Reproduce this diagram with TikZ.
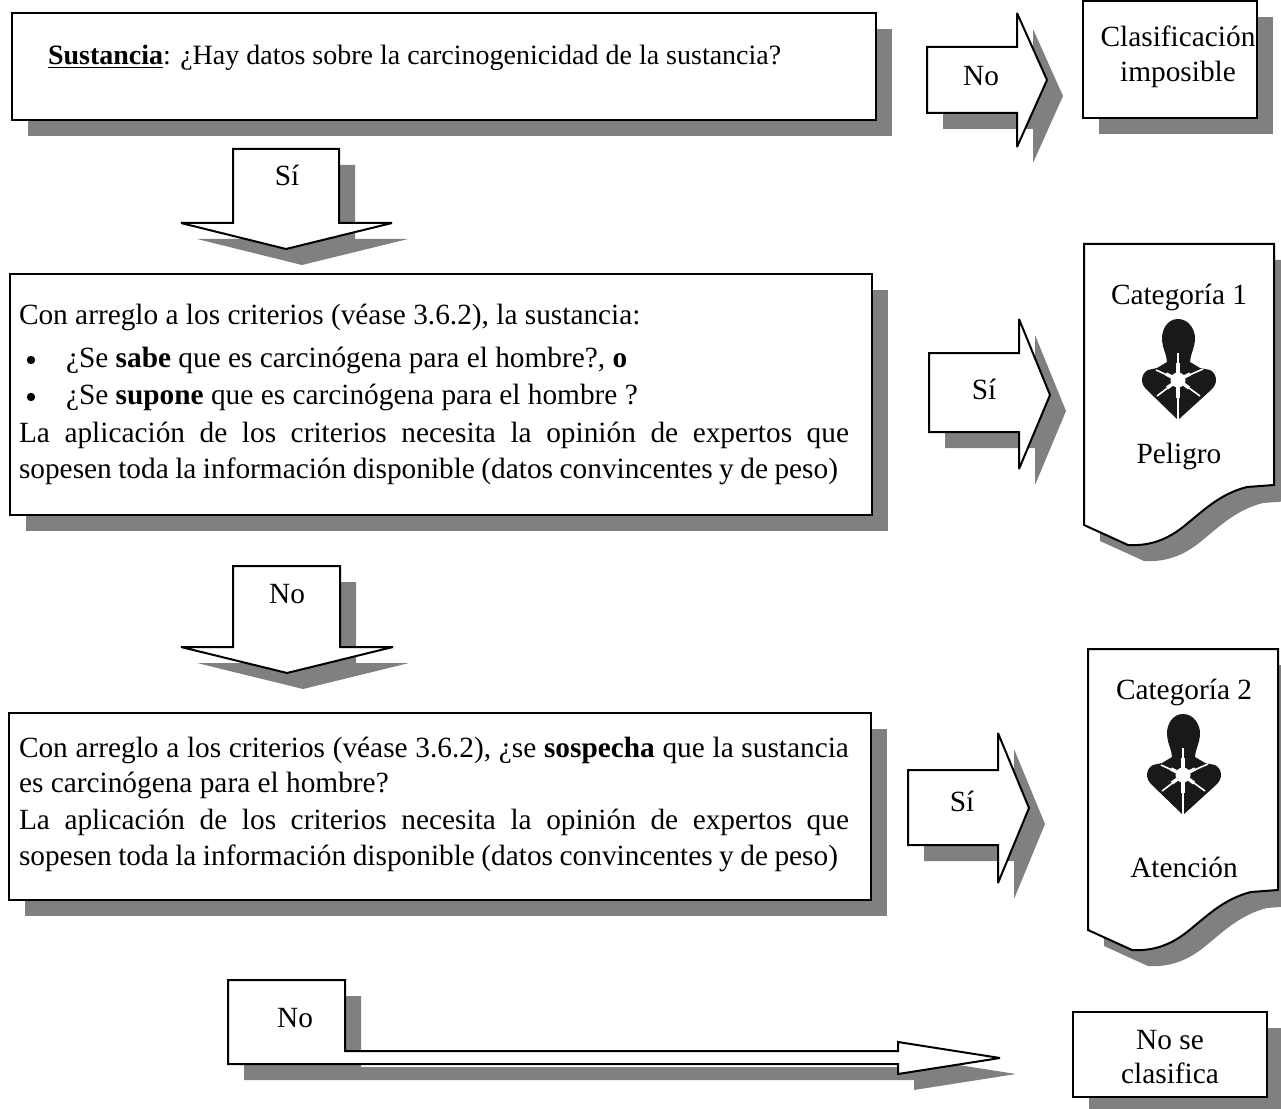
\documentclass[tikz,border=0pt]{standalone}
\usepackage{fontspec}
\setmainfont{Liberation Serif}
\newcommand{\shp}[1]{%
  \fill[shadowfill,shift={(16,16)}] #1 -- cycle;
  \draw[shapeline] #1 -- cycle;}
\newcommand{\docpath}{(0,0) -- (190,0) -- (190,241) -- (163,243)
  .. controls (135,250) and (118,268) .. (99,283)
  .. controls (80,298) and (62,302) .. (44,301) -- (0,281)}
\newcommand{\jline}[1]{\hbox to 622.5pt{#1}}
\newcommand{\kline}[1]{\hbox to 614.25pt{#1}}
\tikzset{
  x=0.75pt,y=-0.75pt,
  shadowfill/.style={fill=shadowgray,draw=none},
  shapeline/.style={draw=black,line width=1.5pt,fill=white,line join=miter,miter limit=3},
  txt/.style={inner sep=0pt,outer sep=0pt,font=\fontsize{22}{26}\selectfont},
  ctext/.style={txt,anchor=base},
  ltext/.style={txt,anchor=base west},
  pics/biohazard/.style={code={
    \fill[black!90] (48,9) .. controls (37,9) and (32,20) .. (32,28)
      .. controls (32,38) and (37,45) .. (37,52)
      -- (27,58) -- (18,60)
      .. controls (14,62) and (12,66) .. (12,70)
      .. controls (12,74) and (14,77) .. (17,80)
      -- (48,110) -- (81,80)
      .. controls (84,77) and (86,74) .. (86,70)
      .. controls (86,66) and (84,62) .. (80,60)
      -- (70,58) -- (60,52)
      .. controls (60,45) and (65,38) .. (65,28)
      .. controls (65,20) and (59,9) .. (48,9) -- cycle;
    \foreach \ex/\ey in {48/43,48/110,26/60,73/59,27/86,70/86}
      \draw[white,line width=1.2pt] (48,70) -- (\ex,\ey);
    \foreach \ex/\ey in {48/53,48/88,36/64,60/64,37/78,59/78}
      \draw[white,line width=2.6pt] (48,70) -- (\ex,\ey);
    \fill[white] (48,70) circle (7.5);
  }}
}
\definecolor{shadowgray}{RGB}{128,128,128}
\begin{document}
\begin{tikzpicture}
\useasboundingbox (0,0) rectangle (1281,1109);
% top box
\shp{(12,13) -- (876,13) -- (876,120) -- (12,120)}
\node[ltext,font=\fontsize{21}{25}\selectfont] (t1) at (48,65) {\underline{\textbf{Sustancia}}: ¿Hay datos sobre la carcinogenicidad de la sustancia?};
% arrow no
\shp{(927,47) -- (1017,47) -- (1017,13) -- (1047,80) -- (1017,147) -- (1017,113) -- (927,113)}
\node[ctext] (n1) at (981,86) {No};
% clasificacion imposible
\shp{(1083,1) -- (1257,1) -- (1257,118) -- (1083,118)}
\node[ctext] (c1) at (1178,47) {Clasificación};
\node[ctext] (c2) at (1178,82) {imposible};
% arrow si down
\shp{(233,149) -- (339,149) -- (339,223) -- (392,223) -- (286,249) -- (181,223) -- (233,223)}
\node[ctext] (s1) at (287,186) {Sí};
% box 2
\shp{(10,274) -- (872,274) -- (872,515) -- (10,515)}
\node[ltext] (b21) at (19,325) {Con arreglo a los criterios (véase 3.6.2), la sustancia:};
\fill (31,360) circle (4.2) coordinate (d1);
\node[ltext] (b22) at (66,367) {¿Se \textbf{sabe} que es carcinógena para el hombre?, \textbf{o}};
\fill (31,397) circle (4.2) coordinate (d2);
\node[ltext] (b23) at (66,404) {¿Se \textbf{supone} que es carcinógena para el hombre ?};
\node[ltext] (b24) at (19,442) {\jline{La aplicación de los criterios necesita la opinión de expertos que}};
\node[ltext] (b25) at (19,478) {\kline{sopesen toda la información disponible (datos convincentes y de peso)}};
% arrow si right
\shp{(929,353) -- (1019,353) -- (1019,319) -- (1050,395) -- (1019,469) -- (1019,432) -- (929,432)}
\node[ctext] (s2) at (984,399) {Sí};
% doc 1
\begin{scope}[shift={(1084,244)}]
\shp{\docpath}
\end{scope}
\node[ctext] (k1) at (1179,305) {Categoría 1};
\pic (bio1) at (1130,310) {biohazard};
\node[ctext] (p1) at (1179,463) {Peligro};
% arrow no down
\shp{(233,566) -- (340,566) -- (340,647) -- (393,647) -- (287,673) -- (181,647) -- (233,647)}
\node[ctext] (n2) at (287,603) {No};
% box 3
\shp{(9,713) -- (871,713) -- (871,900) -- (9,900)}
\node[ltext] (b31) at (19,757) {\jline{Con arreglo a los criterios (véase 3.6.2), ¿se \textbf{sospecha} que la sustancia}};
\node[ltext] (b32) at (19,792) {es carcinógena para el hombre?};
\node[ltext] (b33) at (19,829) {\jline{La aplicación de los criterios necesita la opinión de expertos que}};
\node[ltext] (b34) at (19,865) {\kline{sopesen toda la información disponible (datos convincentes y de peso)}};
% arrow si right 2
\shp{(908,770) -- (998,770) -- (998,733) -- (1029,808) -- (998,883) -- (998,845) -- (908,845)}
\node[ctext] (s3) at (962,811) {Sí};
% doc 2
\begin{scope}[shift={(1088,649)}]
\shp{\docpath}
\end{scope}
\node[ctext] (k2) at (1184,699) {Categoría 2};
\pic (bio2) at (1135,705) {biohazard};
\node[ctext] (p2) at (1184,877) {Atención};
% bottom arrow
\shp{(228,980) -- (345,980) -- (345,1051) -- (898,1051) -- (898,1042) -- (1000,1058) -- (898,1074) -- (898,1064) -- (228,1064)}
\node[ctext] (n3) at (295,1027) {No};
% no se clasifica
\shp{(1073,1012) -- (1267,1012) -- (1267,1097) -- (1073,1097)}
\node[ctext] (f1) at (1170,1049) {No se};
\node[ctext] (f2) at (1170,1083) {clasifica};
\end{tikzpicture}
\end{document}
